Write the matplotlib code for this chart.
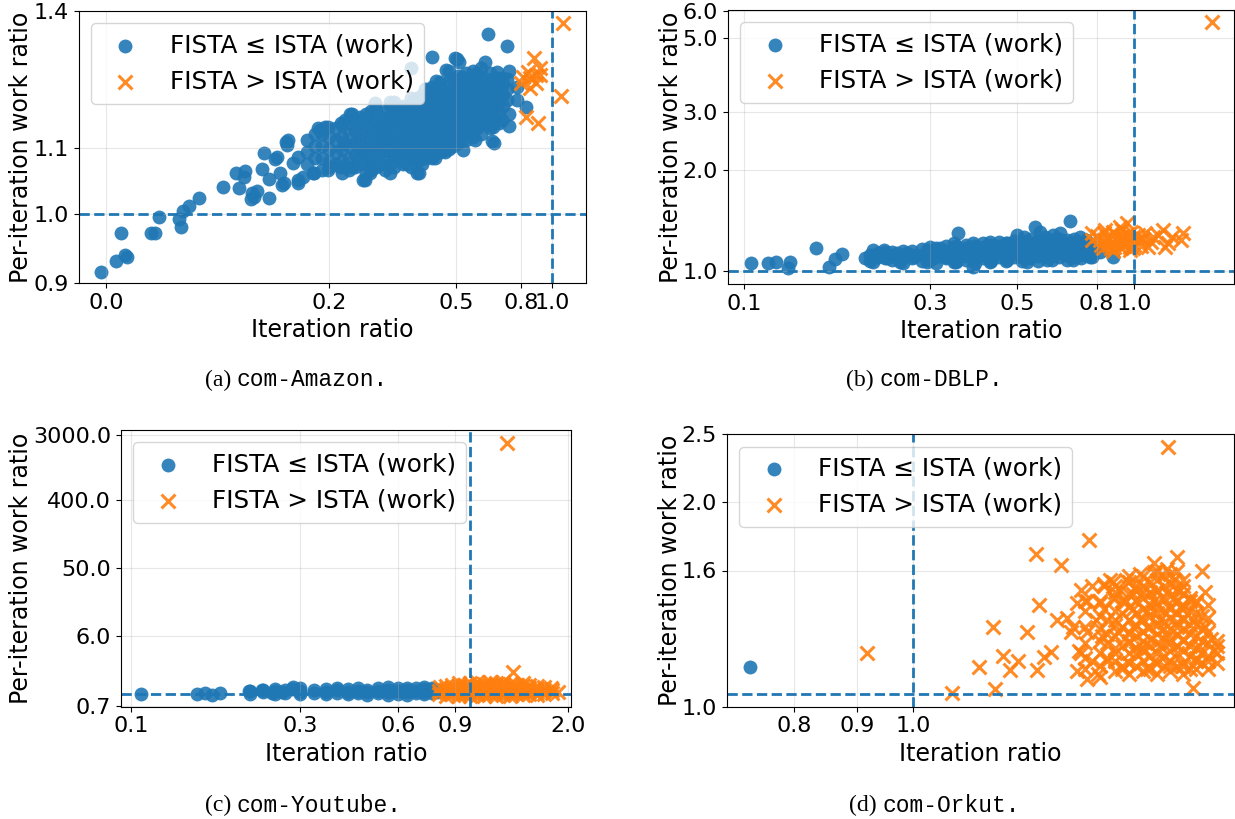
import numpy as np
import matplotlib
matplotlib.use("Agg")
import matplotlib.pyplot as plt
from matplotlib.ticker import FixedLocator, FormatStrFormatter, NullLocator

BLUE = "#1f77b4"
ORANGE = "#ff7f0e"
LABEL_LE = "FISTA \u2264 ISTA (work)"
LABEL_GT = "FISTA > ISTA (work)"

# ---------------- (a) com-Amazon ----------------
amazon_le = [
    (0.0385, 0.915), (0.0430, 0.931), (0.0458, 0.939), (0.0465, 0.936), (0.0445, 0.971),
    (0.0553, 0.971), (0.0570, 0.971), (0.0586, 0.995), (0.0687, 0.980), (0.0677, 0.992),
    (0.0697, 1.005), (0.0728, 1.012), (0.0782, 1.025), (0.0930, 1.042), (0.1044, 1.040),
    (0.1020, 1.065), (0.109, 1.068), (0.108, 1.058), (0.1147, 1.033), (0.119, 1.036),
    (0.114, 1.023), (0.1296, 1.025), (0.123, 1.071), (0.1247, 1.098), (0.1296, 1.055),
    (0.1353, 1.088), (0.1373, 1.091), (0.1466, 1.116), (0.1477, 1.111), (0.1404, 1.065),
    (0.1425, 1.045), (0.1542, 1.081), (0.159, 1.053), (0.116, 1.026), (0.16, 1.091),
    (0.631, 1.317), (0.722, 1.293), (0.42, 1.271), (0.496, 1.269), (0.51, 1.261),
    (0.617, 1.261), (0.362, 1.25), (0.465, 1.246), (0.672, 1.242), (0.733, 1.244),
    (0.433, 1.225), (0.541, 1.223), (0.586, 1.222), (0.672, 1.231), (0.777, 1.214),
    (0.777, 1.190), (0.829, 1.177), (0.733, 1.166), (0.733, 1.144), (0.658, 1.115),
    (0.573, 1.120), (0.526, 1.103), (0.42, 1.089), (0.383, 1.065), (0.310, 1.065),
    (0.259, 1.053), (0.223, 1.075), (0.2, 1.075), (0.179, 1.065), (0.185, 1.140),
    (0.194, 1.142), (0.218, 1.150), (0.233, 1.166), (0.279, 1.185), (0.32, 1.186),
    (0.377, 1.195), (0.348, 1.142), (0.295, 1.120), (0.486, 1.166), (0.445, 1.132),
    (0.389, 1.103), (0.257, 1.098), (0.223, 1.115), (0.586, 1.190), (0.51, 1.195),
    (0.631, 1.166), (0.27, 1.081), (0.339, 1.091), (0.46, 1.103), (0.504, 1.267),
    (0.4455, 1.223), (0.522, 1.233), (0.533, 1.227), (0.608, 1.214), (0.697, 1.231),
    (0.472, 1.205), (0.31, 1.186), (0.406, 1.190), (0.236, 1.166), (0.224, 1.154),
    (0.198, 1.142), (0.187, 1.137), (0.626, 1.150), (0.653, 1.142), (0.697, 1.154),
    (0.649, 1.118), (0.377, 1.065), (0.256, 1.053), (0.148, 1.120), (0.144, 1.048),
    (0.16, 1.048), (0.166, 1.058), (0.178, 1.065), (0.198, 1.070), (0.216, 1.075),
    (0.235, 1.075), (0.269, 1.065),
    (0.17, 1.08), (0.17, 1.10), (0.17, 1.12), (0.19, 1.07), (0.19, 1.09), (0.19, 1.11),
    (0.19, 1.13), (0.21, 1.08), (0.21, 1.10), (0.21, 1.12), (0.21, 1.14), (0.23, 1.07),
    (0.23, 1.09), (0.23, 1.11), (0.23, 1.13), (0.23, 1.15), (0.25, 1.08), (0.25, 1.10),
    (0.25, 1.12), (0.25, 1.14), (0.25, 1.16), (0.27, 1.07), (0.27, 1.09), (0.27, 1.11),
    (0.27, 1.13), (0.27, 1.15), (0.27, 1.17), (0.29, 1.08), (0.29, 1.10), (0.29, 1.12),
    (0.29, 1.14), (0.29, 1.16), (0.31, 1.08), (0.31, 1.10), (0.31, 1.12), (0.31, 1.14),
    (0.31, 1.16), (0.31, 1.18), (0.33, 1.09), (0.33, 1.11), (0.33, 1.13), (0.33, 1.15),
    (0.33, 1.17), (0.35, 1.08), (0.35, 1.10), (0.35, 1.12), (0.35, 1.14), (0.35, 1.16),
    (0.35, 1.18), (0.37, 1.09), (0.37, 1.11), (0.37, 1.13), (0.37, 1.15), (0.37, 1.17),
    (0.37, 1.19), (0.39, 1.08), (0.39, 1.10), (0.39, 1.12), (0.39, 1.14), (0.39, 1.16),
    (0.39, 1.18), (0.39, 1.20), (0.41, 1.10), (0.41, 1.12), (0.41, 1.14), (0.41, 1.16),
    (0.41, 1.18), (0.43, 1.09), (0.43, 1.11), (0.43, 1.13), (0.43, 1.15), (0.43, 1.17),
    (0.43, 1.19), (0.43, 1.21), (0.46, 1.10), (0.46, 1.12), (0.46, 1.14), (0.46, 1.16),
    (0.46, 1.18), (0.46, 1.20), (0.49, 1.11), (0.49, 1.13), (0.49, 1.15), (0.49, 1.17),
    (0.49, 1.19), (0.49, 1.21), (0.49, 1.23), (0.52, 1.12), (0.52, 1.14), (0.52, 1.16),
    (0.52, 1.18), (0.52, 1.20), (0.52, 1.22), (0.55, 1.13), (0.55, 1.15), (0.55, 1.17),
    (0.55, 1.19), (0.55, 1.21), (0.55, 1.23), (0.58, 1.14), (0.58, 1.16), (0.58, 1.18),
    (0.58, 1.20), (0.58, 1.22), (0.58, 1.24), (0.62, 1.15), (0.62, 1.17), (0.62, 1.19),
    (0.62, 1.21), (0.62, 1.23), (0.66, 1.16), (0.66, 1.18), (0.66, 1.20), (0.66, 1.22),
    (0.70, 1.18), (0.70, 1.20), (0.70, 1.22),
    (0.18, 1.09), (0.18, 1.11), (0.18, 1.13), (0.20, 1.085), (0.20, 1.105), (0.20, 1.125),
    (0.22, 1.065), (0.22, 1.085), (0.22, 1.105), (0.22, 1.125), (0.22, 1.145),
    (0.24, 1.075), (0.24, 1.095), (0.24, 1.115), (0.24, 1.135), (0.24, 1.155),
    (0.26, 1.065), (0.26, 1.085), (0.26, 1.105), (0.26, 1.125), (0.26, 1.145), (0.26, 1.165),
    (0.28, 1.075), (0.28, 1.095), (0.28, 1.115), (0.28, 1.135), (0.28, 1.155), (0.28, 1.175),
    (0.30, 1.07), (0.30, 1.09), (0.30, 1.11), (0.30, 1.13), (0.30, 1.15), (0.30, 1.17),
    (0.32, 1.075), (0.32, 1.095), (0.32, 1.115), (0.32, 1.135), (0.32, 1.155), (0.32, 1.175),
    (0.34, 1.08), (0.34, 1.10), (0.34, 1.12), (0.34, 1.14), (0.34, 1.16), (0.34, 1.18),
    (0.36, 1.075), (0.36, 1.095), (0.36, 1.115), (0.36, 1.135), (0.36, 1.155), (0.36, 1.175),
    (0.36, 1.195), (0.38, 1.085), (0.38, 1.105), (0.38, 1.125), (0.38, 1.145), (0.38, 1.165),
    (0.38, 1.185), (0.40, 1.09), (0.40, 1.11), (0.40, 1.13), (0.40, 1.15), (0.40, 1.17),
    (0.40, 1.19), (0.40, 1.21), (0.42, 1.095), (0.42, 1.115), (0.42, 1.135), (0.42, 1.155),
    (0.42, 1.175), (0.42, 1.195), (0.42, 1.215), (0.445, 1.10), (0.445, 1.12), (0.445, 1.14),
    (0.445, 1.16), (0.445, 1.18), (0.445, 1.20), (0.445, 1.22), (0.475, 1.105), (0.475, 1.125),
    (0.475, 1.145), (0.475, 1.165), (0.475, 1.185), (0.475, 1.205), (0.475, 1.225),
    (0.475, 1.245), (0.505, 1.115), (0.505, 1.135), (0.505, 1.155), (0.505, 1.175),
    (0.505, 1.195), (0.505, 1.215), (0.505, 1.235), (0.535, 1.12), (0.535, 1.14),
    (0.535, 1.16), (0.535, 1.18), (0.535, 1.20), (0.535, 1.22), (0.535, 1.24),
    (0.565, 1.125), (0.565, 1.145), (0.565, 1.165), (0.565, 1.185), (0.565, 1.205),
    (0.565, 1.225), (0.565, 1.245), (0.60, 1.13), (0.60, 1.15), (0.60, 1.17), (0.60, 1.19),
    (0.60, 1.21), (0.60, 1.23), (0.60, 1.25), (0.64, 1.14), (0.64, 1.16), (0.64, 1.18),
    (0.64, 1.20), (0.64, 1.22), (0.64, 1.24), (0.68, 1.15), (0.68, 1.17), (0.68, 1.19),
    (0.68, 1.21), (0.68, 1.23), (0.72, 1.19), (0.72, 1.21), (0.72, 1.23),
]
amazon_gt = [
    (1.08, 1.339), (1.065, 1.197), (0.877, 1.269), (0.914, 1.25), (0.89, 1.236),
    (0.853, 1.231), (0.808, 1.233), (0.853, 1.212), (0.797, 1.222), (0.89, 1.222),
    (0.83, 1.160), (0.902, 1.150), (0.914, 1.236), (0.84, 1.242),
]

# ---------------- (b) com-DBLP ----------------
dblp_le = [
    (0.104, 1.059), (0.115, 1.059), (0.121, 1.066), (0.131, 1.066), (0.130, 1.019),
    (0.153, 1.169), (0.165, 1.030), (0.171, 1.084), (0.178, 1.122), (0.204, 1.091),
    (0.214, 1.156), (0.214, 1.066), (0.228, 1.156), (0.232, 1.094), (0.246, 1.130),
    (0.261, 1.130), (0.272, 1.104), (0.251, 1.066), (0.294, 1.156), (0.294, 1.066),
    (0.318, 1.169), (0.330, 1.104), (0.354, 1.297), (0.344, 1.066), (0.684, 1.411),
    (0.556, 1.357), (0.50, 1.282), (0.318, 1.156), (0.344, 1.213), (0.386, 1.213),
    (0.426, 1.224), (0.472, 1.213), (0.52, 1.267), (0.573, 1.311), (0.62, 1.282),
    (0.644, 1.297), (0.725, 1.267), (0.756, 1.211), (0.816, 1.142), (0.88, 1.104),
    (0.35, 1.066), (0.386, 1.030), (0.426, 1.066), (0.472, 1.079), (0.53, 1.066),
    (0.597, 1.079), (0.695, 1.079), (0.77, 1.104),
    (0.22, 1.10), (0.22, 1.13), (0.24, 1.08), (0.24, 1.11), (0.24, 1.14), (0.27, 1.09),
    (0.27, 1.12), (0.27, 1.15), (0.30, 1.08), (0.30, 1.11), (0.30, 1.14), (0.30, 1.18),
    (0.33, 1.09), (0.33, 1.12), (0.33, 1.15), (0.33, 1.19), (0.37, 1.08), (0.37, 1.11),
    (0.37, 1.14), (0.37, 1.17), (0.37, 1.20), (0.41, 1.09), (0.41, 1.12), (0.41, 1.15),
    (0.41, 1.18), (0.41, 1.21), (0.45, 1.10), (0.45, 1.13), (0.45, 1.16), (0.45, 1.19),
    (0.45, 1.22), (0.49, 1.10), (0.49, 1.13), (0.49, 1.16), (0.49, 1.19), (0.49, 1.23),
    (0.54, 1.09), (0.54, 1.12), (0.54, 1.15), (0.54, 1.18), (0.54, 1.21), (0.54, 1.25),
    (0.59, 1.10), (0.59, 1.13), (0.59, 1.16), (0.59, 1.19), (0.59, 1.22), (0.59, 1.26),
    (0.64, 1.10), (0.64, 1.13), (0.64, 1.16), (0.64, 1.19), (0.64, 1.22), (0.64, 1.25),
    (0.70, 1.10), (0.70, 1.13), (0.70, 1.16), (0.70, 1.19), (0.70, 1.22), (0.70, 1.25),
    (0.75, 1.12), (0.75, 1.15), (0.75, 1.18), (0.75, 1.21), (0.75, 1.24),
    (0.21, 1.07), (0.21, 1.12), (0.23, 1.09), (0.23, 1.14), (0.255, 1.06), (0.255, 1.10),
    (0.255, 1.15), (0.285, 1.07), (0.285, 1.12), (0.285, 1.16), (0.31, 1.06), (0.31, 1.10),
    (0.31, 1.13), (0.31, 1.17), (0.35, 1.07), (0.35, 1.10), (0.35, 1.13), (0.35, 1.16),
    (0.35, 1.19), (0.39, 1.06), (0.39, 1.10), (0.39, 1.13), (0.39, 1.16), (0.39, 1.19),
    (0.43, 1.07), (0.43, 1.10), (0.43, 1.14), (0.43, 1.17), (0.43, 1.20), (0.47, 1.07),
    (0.47, 1.11), (0.47, 1.14), (0.47, 1.18), (0.47, 1.21), (0.515, 1.07), (0.515, 1.10),
    (0.515, 1.14), (0.515, 1.17), (0.515, 1.20), (0.515, 1.23), (0.565, 1.07), (0.565, 1.11),
    (0.565, 1.14), (0.565, 1.18), (0.565, 1.21), (0.565, 1.24), (0.615, 1.08), (0.615, 1.11),
    (0.615, 1.15), (0.615, 1.18), (0.615, 1.21), (0.615, 1.24), (0.67, 1.08), (0.67, 1.12),
    (0.67, 1.15), (0.67, 1.18), (0.67, 1.21), (0.67, 1.24), (0.73, 1.09), (0.73, 1.12),
    (0.73, 1.15), (0.73, 1.18), (0.73, 1.21), (0.78, 1.10), (0.78, 1.13), (0.78, 1.16),
    (0.78, 1.19),
]
dblp_gt = [
    (0.777, 1.297), (0.816, 1.238), (0.848, 1.267), (0.882, 1.311), (0.918, 1.357),
    (0.955, 1.389), (0.831, 1.17), (0.881, 1.21), (0.934, 1.238), (0.974, 1.18),
    (0.991, 1.267), (0.78, 1.238), (0.837, 1.297), (0.929, 1.327), (0.886, 1.182),
    (0.973, 1.156), (1.067, 1.297), (1.183, 1.327), (1.197, 1.182), (1.329, 1.297),
    (1.314, 1.238), (1.018, 1.238), (1.117, 1.267), (1.579, 5.58), (0.86, 1.20),
    (0.90, 1.26), (0.95, 1.22), (0.92, 1.18), (1.00, 1.20), (0.88, 1.15), (0.96, 1.29),
    (1.05, 1.25), (1.10, 1.22), (1.15, 1.28), (1.25, 1.26), (1.22, 1.21), (1.08, 1.18),
    (0.80, 1.27), (0.82, 1.20), (0.84, 1.33), (0.86, 1.25), (0.87, 1.17), (0.89, 1.29),
    (0.91, 1.22), (0.93, 1.27), (0.94, 1.19), (0.97, 1.24), (0.98, 1.31), (0.99, 1.17),
    (1.02, 1.28), (1.04, 1.19),
]

# ---------------- (c) com-Youtube ----------------
youtube_le = [
    (0.0973, 1.01), (0.144, 1.01), (0.153, 1.05), (0.16, 0.98), (0.17, 1.05),
    (0.208, 1.12), (0.229, 1.14), (0.246, 1.03), (0.263, 1.08), (0.283, 1.17),
    (0.3, 1.08), (0.285, 1.26),
    (0.21, 1.02), (0.21, 1.12), (0.23, 1.06), (0.23, 1.16), (0.25, 1.00), (0.25, 1.10),
    (0.25, 1.18), (0.27, 1.04), (0.27, 1.14), (0.30, 1.00), (0.30, 1.10), (0.30, 1.20),
    (0.33, 1.05), (0.33, 1.15), (0.36, 1.00), (0.36, 1.09), (0.36, 1.18), (0.39, 1.04),
    (0.39, 1.13), (0.39, 1.21), (0.42, 1.00), (0.42, 1.08), (0.42, 1.17), (0.45, 1.03),
    (0.45, 1.12), (0.45, 1.22), (0.48, 0.99), (0.48, 1.07), (0.48, 1.16), (0.52, 1.03),
    (0.52, 1.12), (0.52, 1.21), (0.56, 0.98), (0.56, 1.07), (0.56, 1.16), (0.56, 1.24),
    (0.60, 1.02), (0.60, 1.11), (0.60, 1.20), (0.64, 0.99), (0.64, 1.06), (0.64, 1.15),
    (0.64, 1.23), (0.68, 1.03), (0.68, 1.12), (0.68, 1.21), (0.72, 1.00), (0.72, 1.08),
    (0.72, 1.17), (0.72, 1.25), (0.76, 1.04), (0.76, 1.13), (0.76, 1.22), (0.79, 1.06),
    (0.79, 1.16),
]
youtube_gt = [
    (1.30, 2384.0), (1.354, 2.01), (1.775, 1.20), (0.809, 1.26),
    (0.80, 1.0), (0.80, 1.12), (0.84, 0.96), (0.84, 1.06), (0.84, 1.18), (0.84, 1.30),
    (0.88, 1.0), (0.88, 1.10), (0.88, 1.22), (0.88, 1.35), (0.92, 0.95), (0.92, 1.04),
    (0.92, 1.15), (0.92, 1.28), (0.92, 1.42), (0.96, 0.98), (0.96, 1.08), (0.96, 1.20),
    (0.96, 1.33), (1.00, 0.95), (1.00, 1.03), (1.00, 1.13), (1.00, 1.25), (1.00, 1.40),
    (1.05, 0.99), (1.05, 1.08), (1.05, 1.18), (1.05, 1.30), (1.05, 1.45), (1.10, 0.96),
    (1.10, 1.04), (1.10, 1.14), (1.10, 1.26), (1.10, 1.38), (1.15, 1.00), (1.15, 1.10),
    (1.15, 1.21), (1.15, 1.34), (1.15, 1.48), (1.20, 0.95), (1.20, 1.05), (1.20, 1.16),
    (1.20, 1.28), (1.20, 1.40), (1.26, 0.99), (1.26, 1.09), (1.26, 1.20), (1.26, 1.32),
    (1.26, 1.46), (1.32, 0.96), (1.32, 1.04), (1.32, 1.14), (1.32, 1.25), (1.32, 1.38),
    (1.38, 1.00), (1.38, 1.10), (1.38, 1.21), (1.38, 1.33), (1.45, 0.97), (1.45, 1.06),
    (1.45, 1.16), (1.45, 1.28), (1.45, 1.42), (1.52, 1.01), (1.52, 1.11), (1.52, 1.22),
    (1.52, 1.35), (1.60, 0.98), (1.60, 1.07), (1.60, 1.18), (1.60, 1.30), (1.68, 1.02),
    (1.68, 1.13), (1.68, 1.25), (1.78, 1.05), (1.78, 1.15), (1.86, 1.08),
]

# ---------------- (d) com-Orkut ----------------
orkut_le = [(0.736, 1.167)]
orkut_gt = [
    (0.917, 1.22), (1.075, 1.07), (1.131, 1.167), (1.161, 1.33), (1.166, 1.085),
    (1.184, 1.21), (1.2, 1.155), (1.218, 1.19), (1.237, 1.31), (1.259, 1.69),
    (1.267, 1.43), (1.262, 1.155), (1.277, 1.205), (1.294, 1.225), (1.32, 1.63),
    (1.31, 1.36), (1.334, 1.37), (1.345, 1.31), (1.39, 1.77), (1.613, 2.395),
    (1.692, 1.09), (1.37, 1.5), (1.40, 1.52), (1.36, 1.44), (1.385, 1.45), (1.41, 1.36),
    (1.35, 1.33), (1.43, 1.52), (1.456, 1.54), (1.50, 1.57), (1.475, 1.5), (1.42, 1.45),
    (1.455, 1.46), (1.51, 1.48), (1.447, 1.55), (1.57, 1.64), (1.64, 1.67), (1.72, 1.6),
    (1.73, 1.49), (1.73, 1.33), (1.76, 1.23), (1.74, 1.19), (1.66, 1.17), (1.62, 1.17),
    (1.55, 1.16), (1.48, 1.17), (1.415, 1.14), (1.385, 1.12), (1.36, 1.15), (1.365, 1.23),
    (1.385, 1.31), (1.426, 1.29), (1.46, 1.36), (1.51, 1.41), (1.56, 1.49), (1.63, 1.55),
    (1.66, 1.41), (1.69, 1.36), (1.71, 1.25), (1.64, 1.33), (1.59, 1.36), (1.55, 1.33),
    (1.5, 1.27), (1.46, 1.22), (1.52, 1.22), (1.59, 1.25), (1.64, 1.22), (1.66, 1.28),
    (1.62, 1.41), (1.58, 1.5), (1.64, 1.6), (1.65, 1.5), (1.51, 1.33), (1.48, 1.39),
    (1.43, 1.41), (1.38, 1.45), (1.46, 1.49), (1.43, 1.53), (1.49, 1.55), (1.53, 1.58),
    (1.57, 1.59), (1.61, 1.61), (1.54, 1.49), (1.61, 1.49), (1.68, 1.45), (1.70, 1.19),
    (1.57, 1.19), (1.5, 1.18), (1.44, 1.19), (1.4, 1.19), (1.37, 1.22),
    (1.50, 1.30), (1.53, 1.36), (1.56, 1.28), (1.58, 1.42), (1.60, 1.32), (1.62, 1.26),
    (1.63, 1.46), (1.66, 1.36), (1.68, 1.30), (1.54, 1.24), (1.57, 1.45), (1.60, 1.52),
    (1.66, 1.52), (1.68, 1.21), (1.72, 1.38), (1.75, 1.28), (1.77, 1.25), (1.47, 1.31),
    (1.44, 1.26), (1.52, 1.52), (1.58, 1.22), (1.62, 1.37), (1.65, 1.42), (1.70, 1.44),
    (1.55, 1.40), (1.49, 1.45),
    (1.38, 1.16), (1.38, 1.20), (1.38, 1.26), (1.38, 1.33), (1.38, 1.40),
    (1.42, 1.13), (1.42, 1.17), (1.42, 1.22), (1.42, 1.27), (1.42, 1.32), (1.42, 1.38),
    (1.42, 1.44), (1.46, 1.15), (1.46, 1.19), (1.46, 1.24), (1.46, 1.29), (1.46, 1.34),
    (1.46, 1.40), (1.46, 1.46), (1.46, 1.52), (1.50, 1.14), (1.50, 1.18), (1.50, 1.22),
    (1.50, 1.26), (1.50, 1.31), (1.50, 1.36), (1.50, 1.42), (1.50, 1.48), (1.50, 1.54),
    (1.54, 1.15), (1.54, 1.19), (1.54, 1.23), (1.54, 1.27), (1.54, 1.31), (1.54, 1.36),
    (1.54, 1.41), (1.54, 1.46), (1.54, 1.52), (1.54, 1.57), (1.58, 1.14), (1.58, 1.18),
    (1.58, 1.26), (1.58, 1.30), (1.58, 1.34), (1.58, 1.39), (1.58, 1.44), (1.58, 1.49),
    (1.58, 1.55), (1.58, 1.60), (1.62, 1.15), (1.62, 1.19), (1.62, 1.23), (1.62, 1.28),
    (1.62, 1.32), (1.62, 1.42), (1.62, 1.47), (1.62, 1.53), (1.62, 1.58), (1.66, 1.14),
    (1.66, 1.18), (1.66, 1.23), (1.66, 1.27), (1.66, 1.32), (1.66, 1.37), (1.66, 1.43),
    (1.66, 1.48), (1.66, 1.55), (1.70, 1.16), (1.70, 1.20), (1.70, 1.24), (1.70, 1.29),
    (1.70, 1.34), (1.70, 1.39), (1.70, 1.45), (1.74, 1.16), (1.74, 1.21), (1.74, 1.26),
    (1.74, 1.31), (1.74, 1.37), (1.74, 1.43), (1.77, 1.18), (1.77, 1.22), (1.77, 1.27),
    (1.44, 1.20), (1.44, 1.30), (1.44, 1.36), (1.48, 1.16), (1.48, 1.25), (1.48, 1.33),
    (1.48, 1.45), (1.52, 1.17), (1.52, 1.24), (1.52, 1.29), (1.52, 1.34), (1.52, 1.39),
    (1.52, 1.45), (1.52, 1.50), (1.56, 1.16), (1.56, 1.21), (1.56, 1.25), (1.56, 1.33),
    (1.56, 1.38), (1.56, 1.43), (1.56, 1.48), (1.56, 1.54), (1.60, 1.17), (1.60, 1.21),
    (1.60, 1.28), (1.60, 1.35), (1.60, 1.40), (1.60, 1.46), (1.60, 1.57), (1.64, 1.17),
    (1.64, 1.25), (1.64, 1.30), (1.64, 1.35), (1.64, 1.39), (1.64, 1.45), (1.64, 1.50),
    (1.68, 1.16), (1.68, 1.25), (1.68, 1.34), (1.68, 1.40), (1.68, 1.46), (1.72, 1.18),
    (1.72, 1.22), (1.72, 1.27), (1.72, 1.32),
]

# ---------------- axes definitions ----------------
x_ticks = {
    "a": [0.04, 0.2, 0.5, 0.8, 1.0],
    "b": [0.1, 0.3, 0.5, 0.8, 1.0],
    "c": [0.0903, 0.3, 0.6, 0.9, 2.0],
    "d": [0.8, 0.9, 1.0],
}
y_ticks = {
    "a": [0.9, 1.0, 1.106, 1.364],
    "b": [1.0, 2.0, 3.0, 5.0, 6.0],
    "c": [0.7, 6.0, 50.0, 400.0, 3000.0],
    "d": [1.024, 1.6, 2.0, 2.5],
}
x_limits = {"a": (0.0327, 1.272), "b": (0.0909, 1.795), "c": (0.084, 2.046), "d": (0.7045, 1.825)}
y_limits = {"a": (0.900, 1.364), "b": (0.914, 6.045), "c": (0.682, 3530.0), "d": (1.024, 2.5)}
ref_x = {"a": 1.0, "b": 1.0, "c": 1.0, "d": 1.0}
ref_y = {"a": 1.0, "b": 1.0, "c": 1.0, "d": 1.066}
captions = {"a": ("(a)", "com-Amazon."), "b": ("(b)", "com-DBLP."),
            "c": ("(c)", "com-Youtube."), "d": ("(d)", "com-Orkut.")}
series = {"a": (amazon_le, amazon_gt), "b": (dblp_le, dblp_gt),
          "c": (youtube_le, youtube_gt), "d": (orkut_le, orkut_gt)}

# pixel boxes (left, right, top, bottom)
boxes = {"a": (78.5, 585.5, 11, 283), "b": (727.8, 1233.7, 10, 284),
         "c": (120.6, 571.4, 430, 706.7), "d": (726.7, 1233.7, 434.3, 706.7)}
caption_pos = {"a": (297, 380), "b": (940, 380), "c": (297, 805), "d": (943, 805)}

W, H = 1235, 819
fig = plt.figure(figsize=(W / 100, H / 100), dpi=100)

for key in ["a", "b", "c", "d"]:
    l, r, t, b = boxes[key]
    ax = fig.add_axes([l / W, 1 - b / H, (r - l) / W, (b - t) / H])
    le, gt = series[key]
    le = np.array(le)
    gt = np.array(gt)
    ax.scatter(le[:, 0], le[:, 1], s=100, c=BLUE, marker="o", alpha=0.9,
               linewidths=0, label=LABEL_LE)
    ax.scatter(gt[:, 0], gt[:, 1], s=100, c=ORANGE, marker="x", alpha=0.9,
               linewidths=2.2, label=LABEL_GT)
    ax.set_xscale("log")
    ax.set_yscale("log")
    ax.set_xlim(*x_limits[key])
    ax.set_ylim(*y_limits[key])
    ax.axvline(ref_x[key], color=BLUE, ls="--", lw=2)
    ax.axhline(ref_y[key], color=BLUE, ls="--", lw=2)
    ax.xaxis.set_major_locator(FixedLocator(x_ticks[key]))
    ax.yaxis.set_major_locator(FixedLocator(y_ticks[key]))
    ax.xaxis.set_minor_locator(NullLocator())
    ax.yaxis.set_minor_locator(NullLocator())
    ax.xaxis.set_major_formatter(FormatStrFormatter("%.1f"))
    ax.yaxis.set_major_formatter(FormatStrFormatter("%.1f"))
    ax.tick_params(labelsize=16)
    ax.grid(True, alpha=0.3)
    ax.set_xlabel("Iteration ratio", fontsize=17)
    ax.set_ylabel("Per-iteration work ratio", fontsize=17, labelpad=0)
    ax.legend(loc="upper left", fontsize=17.8)

    cx, cy = caption_pos[key]
    tag, name = captions[key]
    fig.text((cx - 66) / W, 1 - cy / H, tag, family="Liberation Serif", fontsize=17,
             ha="right", va="center")
    fig.text((cx - 60) / W, 1 - cy / H, name, family="Liberation Mono", fontsize=16.5,
             ha="left", va="center")

fig.savefig("out.png", dpi=100)
